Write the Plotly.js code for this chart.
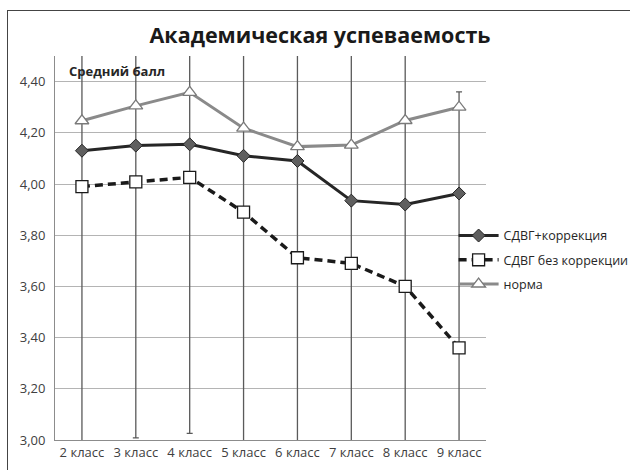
<!DOCTYPE html>
<html>
<head>
<meta charset="utf-8">
<script src="https://cdn.plot.ly/plotly-3.0.1.min.js"></script>
<style>
  html, body { margin: 0; padding: 0; background: #fff; }
  #wrap { position: relative; width: 630px; height: 470px; }
  #chart { width: 630px; height: 470px; }
  #frame { position: absolute; left: 7px; top: 10px; width: 640px; height: 480px;
           border: 1px solid #444; pointer-events: none; box-sizing: border-box; }
</style>
</head>
<body>
<div id="wrap">
  <div id="chart"></div>
  <div id="frame"></div>
</div>
<script>
const categories = ['2 класс', '3 класс', '4 класс', '5 класс', '6 класс', '7 класс', '8 класс', '9 класс'];
const seriesNames = ['СДВГ+коррекция', 'СДВГ без коррекции', 'норма'];
const withCorrection = [4.13, 4.15, 4.155, 4.11, 4.09, 3.935, 3.92, 3.963];
const withoutCorrection = [3.99, 4.008, 4.026, 3.89, 3.712, 3.69, 3.60, 3.36];
const norm = [4.247, 4.305, 4.358, 4.218, 4.146, 4.152, 4.248, 4.30];
const errorValue = [1.0, 1.0, 1.0, 1.0, 1.0, 1.0, 1.0, 1.0];
const yTicks = [3.0, 3.2, 3.4, 3.6, 3.8, 4.0, 4.2, 4.4];
const yTickLabels = ['3,00', '3,20', '3,40', '3,60', '3,80', '4,00', '4,20', '4,40'];

const font = '"Open Sans", "Noto Sans", sans-serif';

const traces = [
  {
    x: categories, y: withoutCorrection, type: 'scatter', mode: 'lines',
    line: {width: 0, color: 'rgba(0,0,0,0)'}, showlegend: false, hoverinfo: 'skip',
    error_y: {type: 'data', array: errorValue, visible: true, color: '#5a5a5a', thickness: 1.3, width: 3}
  },
  {
    x: categories, y: withCorrection, name: seriesNames[0], type: 'scatter', mode: 'lines+markers',
    legendgroup: 'a',
    line: {color: '#262626', width: 3},
    marker: {symbol: 'diamond', size: 10, color: '#5f5f5f', line: {color: '#262626', width: 1}}
  },
  {
    x: categories, y: withoutCorrection, name: seriesNames[1], type: 'scatter', mode: 'lines+markers',
    legendgroup: 'b',
    line: {color: '#1a1a1a', width: 3.5, dash: '8px,5px'},
    marker: {symbol: 'square', size: 12, color: '#ffffff', line: {color: '#1a1a1a', width: 1.3}}
  },
  {
    x: categories, y: norm, name: seriesNames[2], type: 'scatter', mode: 'lines+markers',
    legendgroup: 'c',
    line: {color: '#8a8a8a', width: 3},
    marker: {symbol: 'triangle-up', size: 12, color: '#ffffff', line: {color: '#7a7a7a', width: 1.3}}
  }
];

const layout = {
  width: 630, height: 470,
  margin: {l: 55, r: 144, t: 56, b: 30, autoexpand: false},
  paper_bgcolor: '#ffffff', plot_bgcolor: '#ffffff',
  font: {family: font, size: 12, color: '#404040'},
  title: {
    text: '<b>Академическая успеваемость</b>',
    font: {family: font, size: 21.5, color: '#1a1a1a'},
    x: 0.508, xref: 'container', xanchor: 'center',
    y: 0.925, yref: 'container', yanchor: 'middle'
  },
  xaxis: {
    type: 'category', showgrid: false, zeroline: false,
    showline: true, linecolor: '#8c8c8c', linewidth: 1,
    ticks: '', tickfont: {family: font, size: 13, color: '#404040'},
    range: [-0.5, 7.5]
  },
  yaxis: {
    range: [3.0, 4.5], tickvals: yTicks, ticktext: yTickLabels,
    showgrid: true, gridcolor: '#b4b4b4', gridwidth: 1,
    showline: true, linecolor: '#8c8c8c', linewidth: 1, zeroline: false,
    ticks: '', ticklen: 0, ticklabelstandoff: 6,
    tickfont: {family: font, size: 13, color: '#404040'},
    automargin: false
  },
  legend: {
    xref: 'container', yref: 'container',
    x: 0.72, xanchor: 'left', y: 0.53, yanchor: 'top',
    font: {family: font, size: 12.5, color: '#262626'},
    bgcolor: 'rgba(0,0,0,0)', tracegroupgap: 5, itemwidth: 40
  },
  annotations: [{
    text: '<b>Средний балл</b>', xref: 'paper', yref: 'paper',
    x: 0.027, y: 0.99, xanchor: 'left', yanchor: 'top', showarrow: false,
    font: {family: font, size: 13, color: '#262626'}
  }],
  showlegend: true
};

Plotly.newPlot('chart', traces, layout, {displayModeBar: false, staticPlot: true});
</script>
</body>
</html>
